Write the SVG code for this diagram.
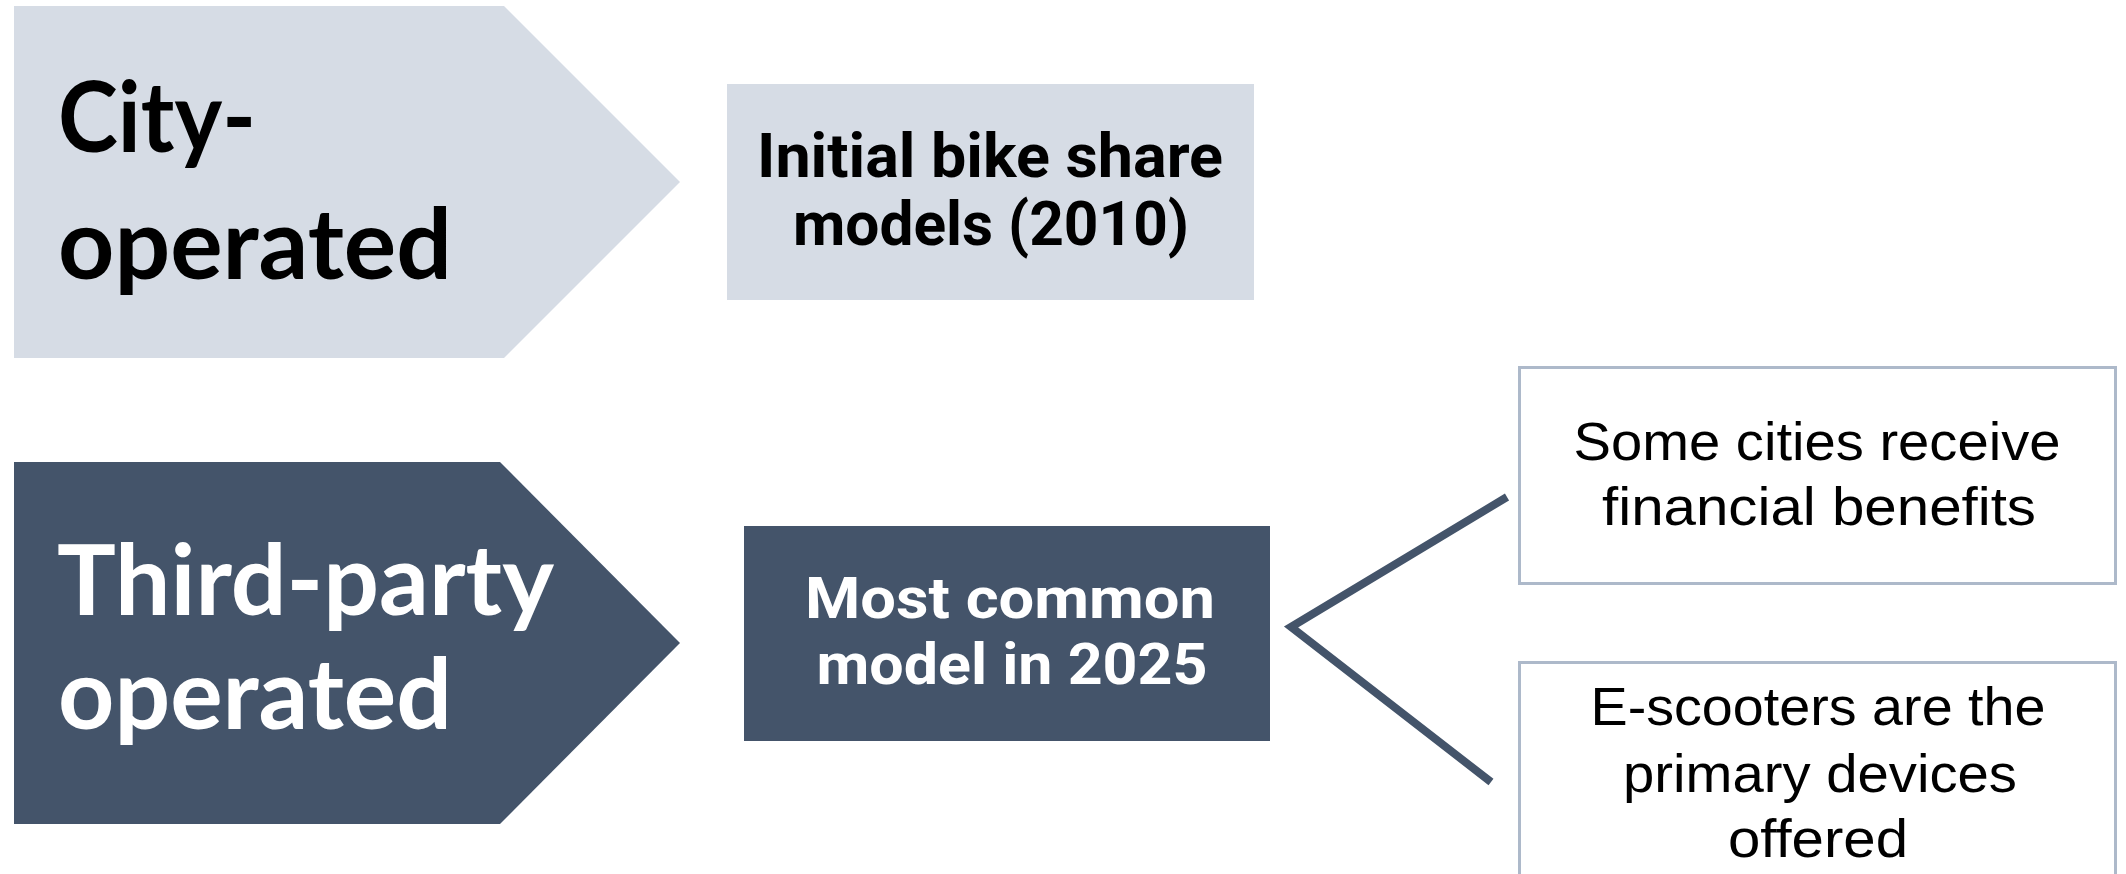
<svg xmlns="http://www.w3.org/2000/svg" width="2126" height="874" viewBox="0 0 2126 874">
  <defs>
    <style>
      .light { fill: #D6DCE5; }
      .dark { fill: #44546A; }
      .outline { fill: #FFFFFF; stroke: #ADB9CA; stroke-width: 3; }
      .chev { font-family: Lato, "Liberation Sans", sans-serif; font-weight: 700; font-size: 98px; }
      .mid { font-family: Roboto, "Liberation Sans", sans-serif; font-weight: 700; text-anchor: middle; }
      .side { font-family: "Liberation Sans", Arial, sans-serif; font-weight: 400; font-size: 53px; text-anchor: middle; fill: #000000; }
      .conn { fill: none; stroke: #44546A; stroke-width: 8; stroke-linejoin: miter; }
    </style>
  </defs>
  <rect width="2126" height="874" fill="#FFFFFF"/>

  <g id="connectors">
    <polyline class="conn" points="1507,497 1291,627 1491,782"/>
  </g>

  <g id="city-operated">
    <polygon class="light" points="14,6 504,6 680,182 504,358 14,358"/>
    <text class="chev" fill="#000000"><tspan x="58" y="152" textLength="198" lengthAdjust="spacingAndGlyphs">City-</tspan><tspan x="58" y="279" textLength="394" lengthAdjust="spacingAndGlyphs">operated</tspan></text>
  </g>

  <g id="initial-bike-share">
    <rect class="light" x="727" y="84" width="527" height="216"/>
    <text class="mid" font-size="62" fill="#000000"><tspan x="990" y="177" textLength="466" lengthAdjust="spacingAndGlyphs">Initial bike share</tspan><tspan x="991" y="245" textLength="396" lengthAdjust="spacingAndGlyphs">models (2010)</tspan></text>
  </g>

  <g id="third-party-operated">
    <polygon class="dark" points="14,462 500,462 680,643 500,824 14,824"/>
    <text class="chev" fill="#FFFFFF"><tspan x="57" y="615" textLength="497" lengthAdjust="spacingAndGlyphs">Third-party</tspan><tspan x="58" y="729" textLength="394" lengthAdjust="spacingAndGlyphs">operated</tspan></text>
  </g>

  <g id="most-common">
    <rect class="dark" x="744" y="526" width="526" height="215"/>
    <text class="mid" font-size="57" fill="#FFFFFF"><tspan x="1010" y="618" textLength="410" lengthAdjust="spacingAndGlyphs">Most common</tspan><tspan x="1012" y="684" textLength="391" lengthAdjust="spacingAndGlyphs">model in 2025</tspan></text>
  </g>

  <g id="financial-benefits">
    <rect class="outline" x="1519.5" y="367.5" width="596" height="216"/>
    <text class="side"><tspan x="1817" y="460" textLength="487" lengthAdjust="spacingAndGlyphs">Some cities receive</tspan><tspan x="1819" y="525" textLength="434" lengthAdjust="spacingAndGlyphs">financial benefits</tspan></text>
  </g>

  <g id="e-scooters">
    <rect class="outline" x="1519.5" y="662.5" width="596" height="230"/>
    <text class="side"><tspan x="1818" y="725" textLength="455" lengthAdjust="spacingAndGlyphs">E-scooters are the</tspan><tspan x="1820" y="792" textLength="394" lengthAdjust="spacingAndGlyphs">primary devices</tspan><tspan x="1818" y="857" textLength="180" lengthAdjust="spacingAndGlyphs">offered</tspan></text>
  </g>
</svg>
